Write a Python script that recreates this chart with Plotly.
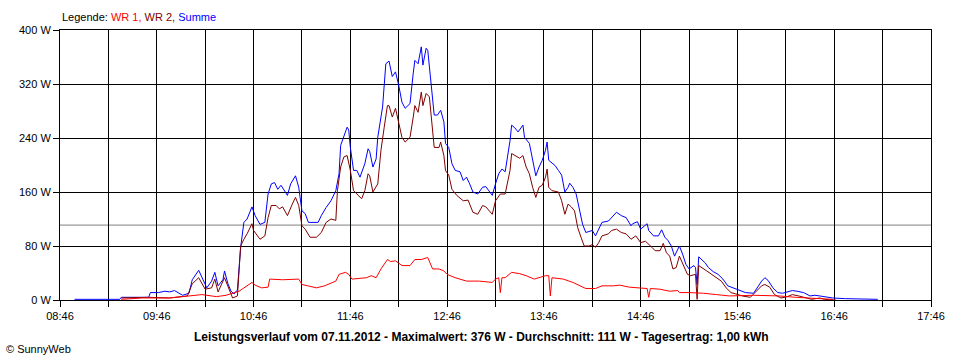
import plotly.graph_objects as go
import pandas as pd

DATE = "2012-11-07"

summe_times = ["08:55","09:23","09:24","09:41","09:42","09:47","09:51","09:54","09:57","10:02","10:06","10:08",
    "10:12","10:15","10:17","10:20","10:22","10:24","10:27","10:28","10:30","10:32","10:34","10:36","10:38","10:40",
    "10:42","10:45","10:47","10:50","10:53","10:55","10:57","10:59","11:01","11:03","11:05","11:07","11:09","11:12",
    "11:14","11:16","11:18","11:20","11:26","11:28","11:31","11:34","11:37","11:39","11:40","11:42","11:44","11:45",
    "11:46","11:48","11:50","11:52","11:55","11:57","11:58","12:00","12:02","12:03","12:06","12:08","12:10","12:12",
    "12:14","12:16","12:18","12:20","12:23","12:25","12:26","12:28","12:30","12:31","12:33","12:34","12:36","12:38",
    "12:40","12:42","12:44","12:45","12:47","12:49","12:51","12:54","12:56","12:58","13:00","13:02","13:05","13:08",
    "13:10","13:12","13:14","13:16","13:18","13:20","13:22","13:25","13:26","13:28","13:30","13:33","13:34","13:37",
    "13:39","13:41","13:43","13:45","13:47","13:48","13:49","13:53","13:55","13:57","13:59","14:01","14:02","14:04",
    "14:06","14:08","14:10","14:12","14:16","14:18","14:22","14:26","14:28","14:31","14:34","14:37","14:40","14:41",
    "14:44","14:46","14:50","14:51","14:54","14:57","14:59","15:01","15:03","15:05","15:07","15:10","15:12","15:14",
    "15:16","15:19","15:20","15:21","15:22","15:26","15:28","15:31","15:34","15:37","15:40","15:43","15:47","15:51",
    "15:56","15:58","16:01","16:03","16:05","16:08","16:11","16:14","16:17","16:20","16:23","16:27","16:31","16:34",
    "16:37","16:41","16:45","16:53","17:04","17:13"]
summe_values = [1,1,4,4,11,11,13,12,14,7,10,30,
    44,28,18,28,41,21,30,43,25,13,9,15,78,115,
    120,138,125,112,115,157,172,174,164,170,162,155,172,184,
    167,132,128,115,115,125,137,147,162,187,229,241,256,252,
    226,192,192,182,202,224,220,197,209,241,286,350,354,331,
    338,318,293,284,291,336,355,350,375,348,373,370,321,274,
    274,281,264,232,226,202,192,190,177,182,172,160,157,167,
    168,162,155,172,187,194,190,236,259,255,249,259,241,232,
    207,184,197,207,222,234,207,199,192,185,160,167,173,167,
    157,132,112,100,103,95,115,117,122,130,125,122,110,113,
    116,105,113,103,95,95,104,93,88,80,65,80,68,53,
    46,51,48,23,64,55,48,42,38,31,21,18,15,11,
    10,18,28,33,29,18,11,10,12,14,13,11,6,7,
    6,4,3,2,2,1]

wr2_times = ["09:24","09:41","09:54","10:05","10:08","10:12","10:16","10:20","10:22","10:24","10:28","10:31",
    "10:33","10:36","10:37","10:38","10:40","10:42","10:45","10:46","10:50","10:53","10:55","10:57","11:00","11:02",
    "11:04","11:07","11:10","11:12","11:14","11:16","11:18","11:21","11:25","11:28","11:31","11:34","11:37","11:38",
    "11:40","11:42","11:44","11:46","11:48","11:50","11:53","11:55","11:57","11:58","12:00","12:03","12:05","12:07",
    "12:09","12:10","12:12","12:14","12:16","12:18","12:20","12:23","12:25","12:26","12:28","12:30","12:31","12:33",
    "12:35","12:37","12:38","12:41","12:42","12:44","12:45","12:47","12:49","12:52","12:56","12:59","13:02","13:05",
    "13:08","13:10","13:12","13:14","13:16","13:19","13:22","13:25","13:26","13:29","13:31","13:33","13:35","13:37",
    "13:39","13:41","13:43","13:45","13:47","13:48","13:49","13:51","13:55","13:57","13:59","14:01","14:03","14:05",
    "14:07","14:09","14:11","14:14","14:16","14:18","14:20","14:22","14:26","14:28","14:31","14:34","14:37","14:40",
    "14:41","14:43","14:46","14:49","14:53","14:55","14:58","15:00","15:02","15:04","15:06","15:08","15:10","15:12",
    "15:15","15:17","15:20","15:21","15:22","15:27","15:30","15:33","15:36","15:39","15:42","15:45","15:49","15:54",
    "15:57","16:01","16:03","16:06","16:09","16:13","16:17","16:20","16:24","16:29","16:32","16:37","16:40","16:47"]
wr2_values = [3,4,3,6,24,33,16,18,31,12,33,14,
    3,6,43,80,90,98,113,103,90,95,122,140,140,135,
    138,125,142,152,140,110,105,93,93,100,115,120,118,162,
    197,212,214,192,162,157,150,162,187,184,160,172,222,256,
    288,288,271,284,261,241,234,241,271,288,278,308,288,306,
    301,251,226,226,234,214,192,185,164,155,147,148,130,127,
    140,138,133,127,147,157,157,192,217,212,210,214,197,187,
    167,152,167,170,182,194,167,162,160,147,127,142,138,132,
    107,93,80,80,82,78,85,95,98,103,105,100,98,90,
    92,95,85,87,78,73,73,84,70,65,46,48,65,55,
    38,36,38,1,51,43,38,34,28,18,11,9,6,4,
    11,21,23,19,8,3,5,8,6,3,1,3,1,0]

wr1_times = ["09:24","09:37","09:54","10:08","10:14","10:23","10:29","10:37","10:40","10:45","10:47","10:51",
    "10:55","10:56","11:04","11:14","11:16","11:25","11:30","11:37","11:39","11:43","11:45","11:47","11:56","11:59",
    "12:02","12:05","12:09","12:11","12:14","12:18","12:23","12:26","12:30","12:34","12:37","12:41","12:44","12:46",
    "12:51","12:58","13:06","13:14","13:16","13:18","13:19","13:20","13:22","13:26","13:31","13:35","13:40","13:43",
    "13:47","13:49","13:50","13:51","13:58","14:04","14:09","14:12","14:18","14:22","14:29","14:33","14:39","14:45",
    "14:50","14:51","14:52","14:58","15:04","15:09","15:10","15:16","15:25","15:33","15:41","15:56","16:12","16:22",
    "16:31","16:39","16:45"]
wr1_values = [1,3,3,6,8,5,7,13,18,26,22,18,
    19,31,30,31,23,18,21,28,38,41,38,31,33,36,
    33,46,60,57,58,51,51,60,60,63,46,46,43,38,
    33,28,28,26,31,33,11,33,33,41,39,36,31,33,
    36,36,6,33,31,26,21,17,17,21,21,22,19,18,
    17,4,17,16,13,14,11,11,10,8,6,7,6,4,
    3,2,1]

avg_value = 111
y_ticks = [0, 80, 160, 240, 320, 400]
y_labels = ["0 W", "80 W", "160 W", "240 W", "320 W", "400 W"]
x_start, x_end = "08:46", "17:46"
title_text = "Leistungsverlauf vom 07.11.2012 - Maximalwert: 376 W - Durchschnitt: 111 W - Tagesertrag: 1,00 kWh"

def ts(lst):
    return [f"{DATE} {t}" for t in lst]

FONT = "Liberation Sans, Arial, sans-serif"

fig = go.Figure()
fig.add_trace(go.Scatter(x=ts(summe_times), y=summe_values, mode="lines", name="Summe",
                         line=dict(color="#0000FF", width=1)))
fig.add_trace(go.Scatter(x=ts(wr2_times), y=wr2_values, mode="lines", name="WR 2",
                         line=dict(color="#800000", width=1)))
fig.add_trace(go.Scatter(x=ts(wr1_times), y=wr1_values, mode="lines", name="WR 1",
                         line=dict(color="#FF0000", width=1)))

tick_times = pd.date_range(f"{DATE} {x_start}", f"{DATE} {x_end}", freq="30min")
tick_vals = [t.strftime("%Y-%m-%d %H:%M") for t in tick_times]
tick_text = [t.strftime("%H:%M") if i % 2 == 0 else "" for i, t in enumerate(tick_times)]

fig.add_shape(type="line", xref="paper", x0=0, x1=1, yref="y", y0=avg_value, y1=avg_value,
              line=dict(color="#808080", width=1), layer="below")

fig.update_xaxes(type="date", range=[f"{DATE} {x_start}", f"{DATE} {x_end}"],
                 tickvals=tick_vals, ticktext=tick_text,
                 showgrid=True, gridcolor="black", gridwidth=1,
                 showline=True, linecolor="black", linewidth=1, mirror=True,
                 ticks="outside", ticklen=6, tickcolor="black", tickwidth=1,
                 tickfont=dict(family=FONT, size=11, color="black"), zeroline=False)
fig.update_yaxes(range=[0, 400], tickvals=y_ticks, ticktext=y_labels,
                 showgrid=True, gridcolor="black", gridwidth=1,
                 showline=True, linecolor="black", linewidth=1, mirror=True,
                 ticks="outside", ticklen=6, tickcolor="black", tickwidth=1,
                 tickfont=dict(family=FONT, size=11, color="black"), zeroline=False)

fig.add_annotation(xref="paper", yref="paper", x=0, y=1.048, xanchor="left", yanchor="middle",
                   showarrow=False,
                   text="Legende: <span style='color:#FF0000'>WR 1,</span> "
                        "<span style='color:#800000'>WR 2,</span> "
                        "<span style='color:#0000FF'>Summe</span>",
                   font=dict(family=FONT, size=11, color="black"))
fig.add_annotation(xref="paper", yref="paper", x=(481 - 60) / 871, y=-0.137, xanchor="center",
                   yanchor="middle", showarrow=False, text=f"<b>{title_text}</b>",
                   font=dict(family=FONT, size=12, color="black"))
fig.add_annotation(xref="paper", yref="paper", x=-0.064, y=-0.181, xanchor="left", yanchor="middle",
                   showarrow=False, text="© SunnyWeb",
                   font=dict(family=FONT, size=11, color="black"))

fig.update_layout(width=960, height=360, margin=dict(l=60, r=29, t=30, b=60),
                  paper_bgcolor="white", plot_bgcolor="white", showlegend=False)

fig.write_html("out.html", config={"displayModeBar": False},
               post_script="document.body.style.margin='0';document.body.style.overflow='hidden';")
